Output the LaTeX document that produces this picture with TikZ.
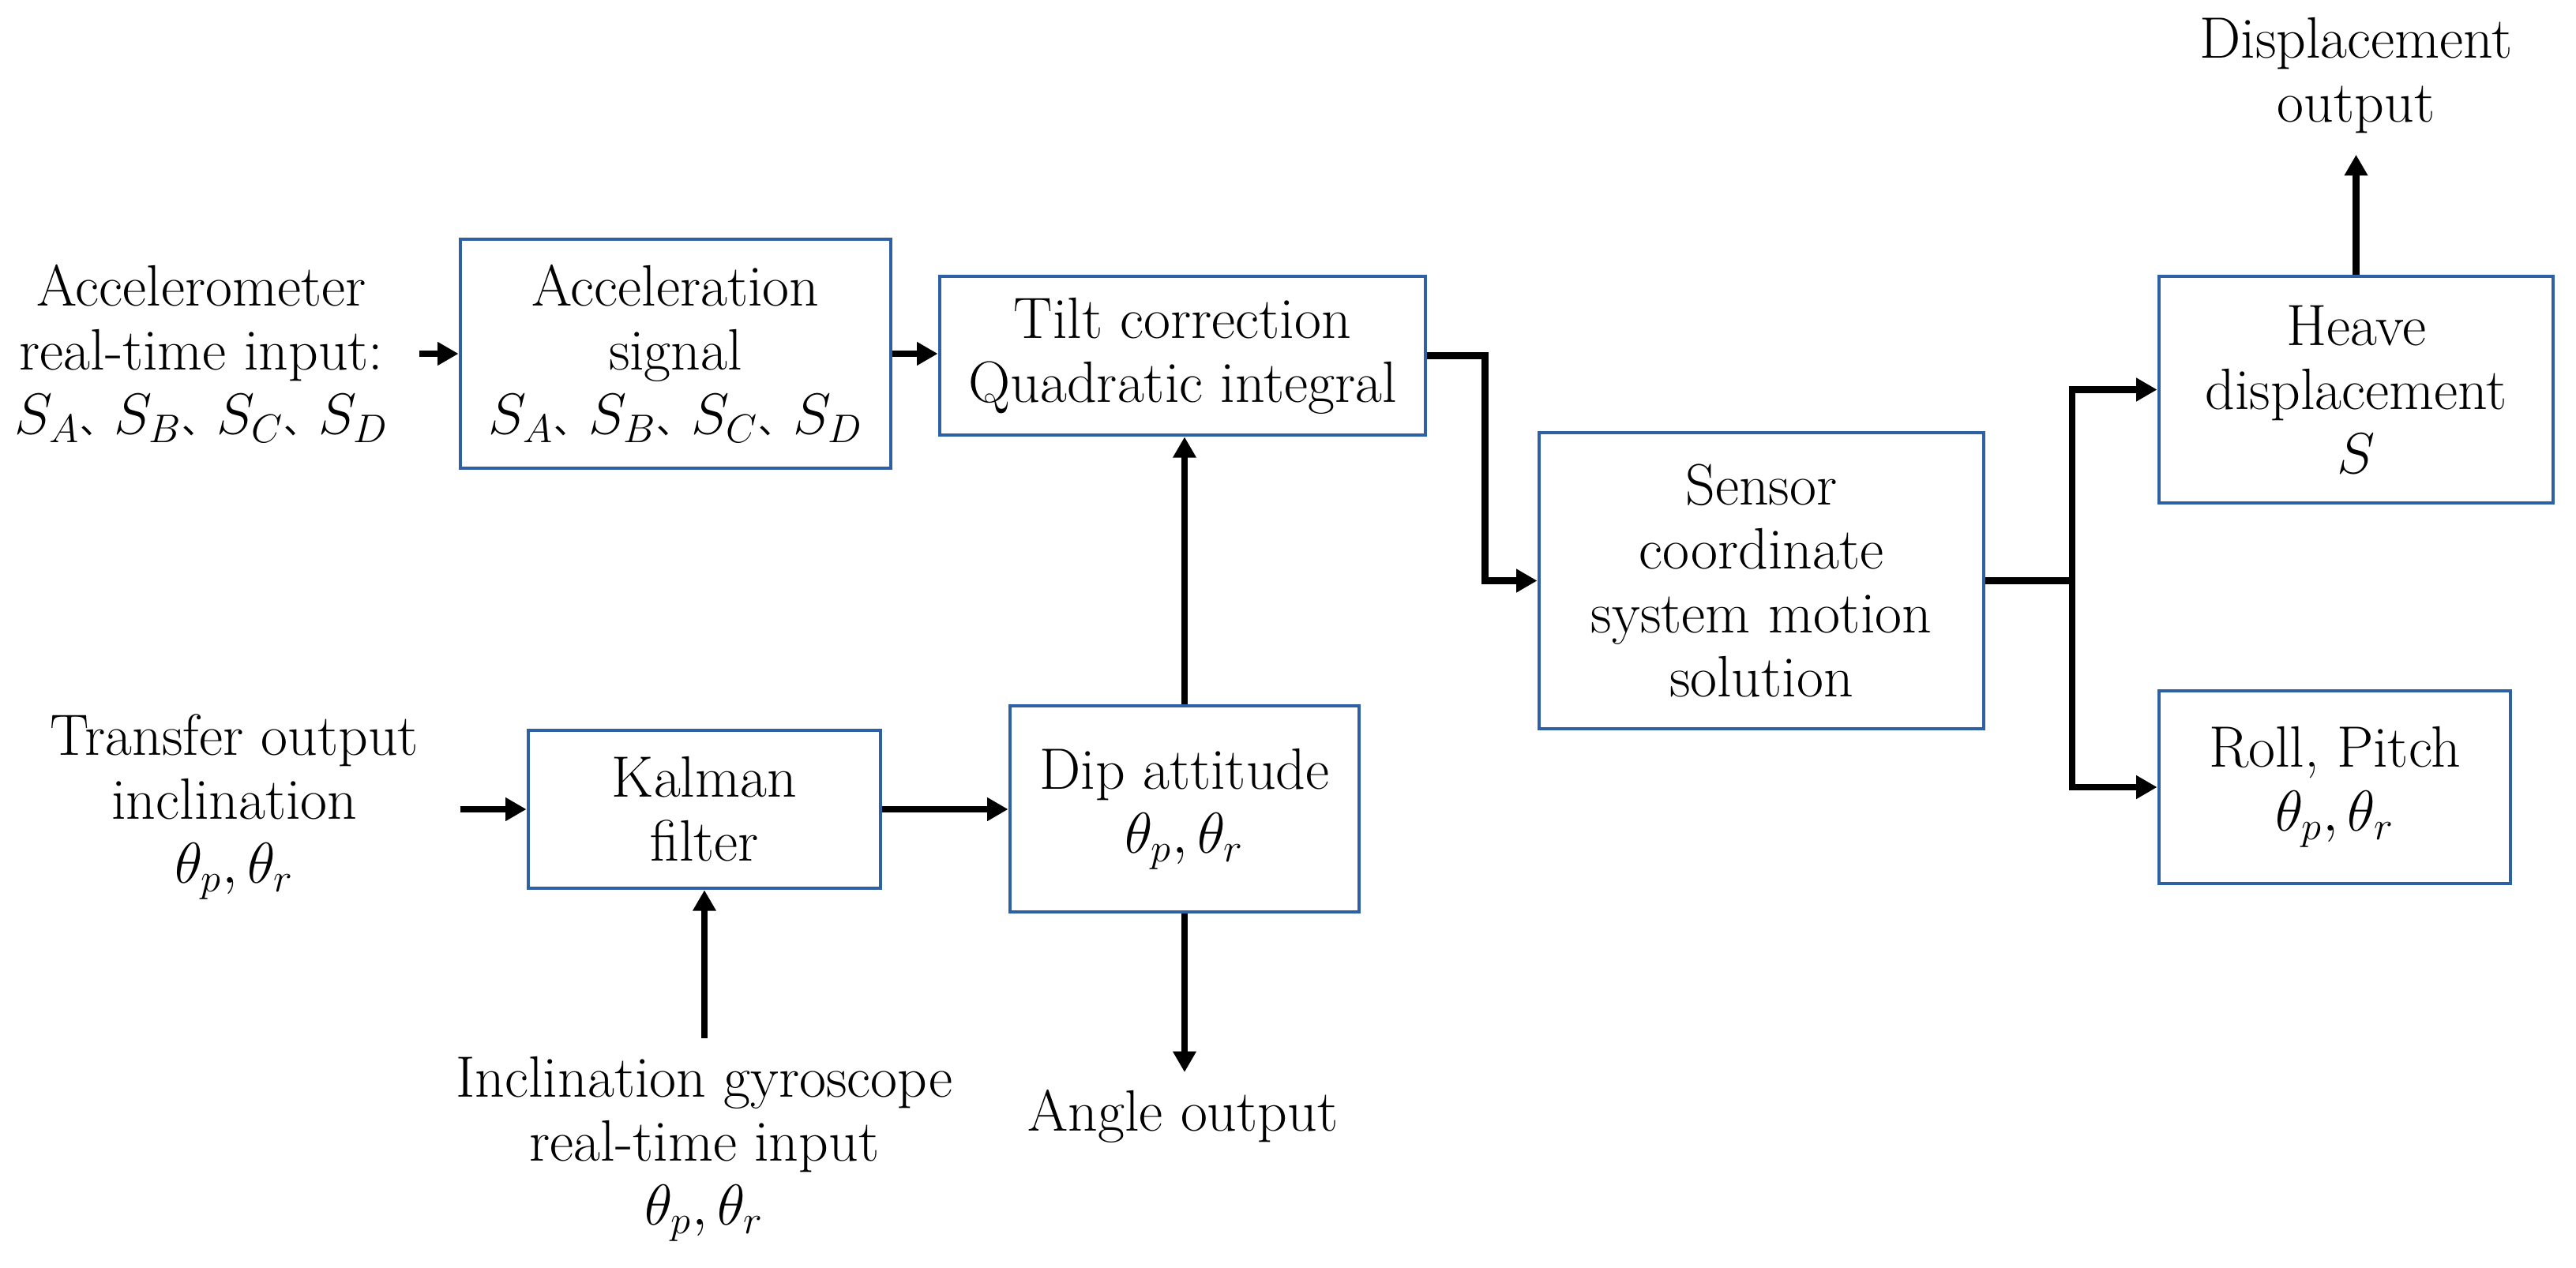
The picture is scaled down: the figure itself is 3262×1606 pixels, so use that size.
\documentclass[tikz,border=0pt]{standalone}
\usepackage{fontspec}
\newfontfamily\cjk{Noto Sans CJK SC}
\usetikzlibrary{arrows.meta,calc}
\definecolor{boxblue}{RGB}{46,96,165}
\newcommand{\dun}{{\cjk\fontsize{12.5}{12.5}\selectfont 、}}
\newcommand{\sabcd}{$S_A$\dun$S_B$\dun$S_C$\dun$S_D$}
\newcommand{\thpr}{$\theta_p,\theta_r$}
\begin{document}
\begin{tikzpicture}[x=0.01cm,y=-0.01cm,
  every node/.style={font=\fontsize{21}{23}\selectfont, align=center, inner sep=0pt},
  blk/.style={draw=boxblue, line width=1.3pt, rectangle, align=center},
  conn/.style={line width=2.4pt, black},
  arr/.style={conn, -{Triangle[length=7.5pt,width=8pt]}}]
\useasboundingbox (0,0) rectangle (3262,1606);

% boxes
\node[blk, minimum width=5.45cm, minimum height=2.90cm] (acc) at (855.5,448) {Acceleration\\signal\\\sabcd};
\node[blk, minimum width=6.15cm, minimum height=2.01cm] (tilt) at (1497.5,450.5) {Tilt correction\\Quadratic integral};
\node[blk, minimum width=5.63cm, minimum height=3.75cm] (sensor) at (2230.5,735.5) {Sensor\\coordinate\\system motion\\solution};
\node[blk, minimum width=4.99cm, minimum height=2.87cm] (heave) at (2983.5,493.5) {Heave\\displacement\\$S$};
\node[blk, minimum width=4.45cm, minimum height=2.44cm] (roll) at (2956.5,997) {Roll, Pitch\\\thpr};
\node[blk, minimum width=4.46cm, minimum height=2.00cm] (kalman) at (892,1025) {Kalman\\filter};
\node[blk, minimum width=4.42cm, minimum height=2.61cm] (dip) at (1500,1024.5) {Dip attitude\\\thpr};

% free texts
\node (acctext) at (255,448) {Accelerometer\\real-time input:\\\sabcd};
\node (transtext) at (297,1022) {Transfer output\\inclination\\\thpr};
\node (gyrotext) at (892,1455) {Inclination gyroscope\\real-time input\\\thpr};
\node (angle) at (1498,1414) {Angle output};
\node (disp) at (2983.5,96) {Displacement\\output};

% free ends
\coordinate (accstart) at (531,448);
\coordinate (transstart) at (583,1025);
\coordinate (gyrostart) at (892,1315);
\coordinate (angletip) at (1500,1358);
\coordinate (disptip) at (2983.5,196);
\coordinate (branch) at (2624,0);

% connectors
\draw[arr] (accstart) -- (acc.west);
\draw[arr] (acc.east) -- (acc.east -| tilt.west);
\draw[arr] (tilt.east) -- ++(73,0) |- (sensor.west);
\draw[conn] (sensor.east) -- (sensor.east -| branch);
\draw[arr] (sensor.east -| branch) |- (heave.west);
\draw[arr] (sensor.east -| branch) |- (roll.west);
\draw[arr] (heave.north) -- (disptip);
\draw[arr] (transstart) -- (kalman.west);
\draw[arr] (gyrostart) -- (kalman.south);
\draw[arr] (kalman.east) -- (kalman.east -| dip.west);
\draw[arr] (dip.north) -- (dip.north |- tilt.south);
\draw[arr] (dip.south) -- (angletip);
\end{tikzpicture}
\end{document}
